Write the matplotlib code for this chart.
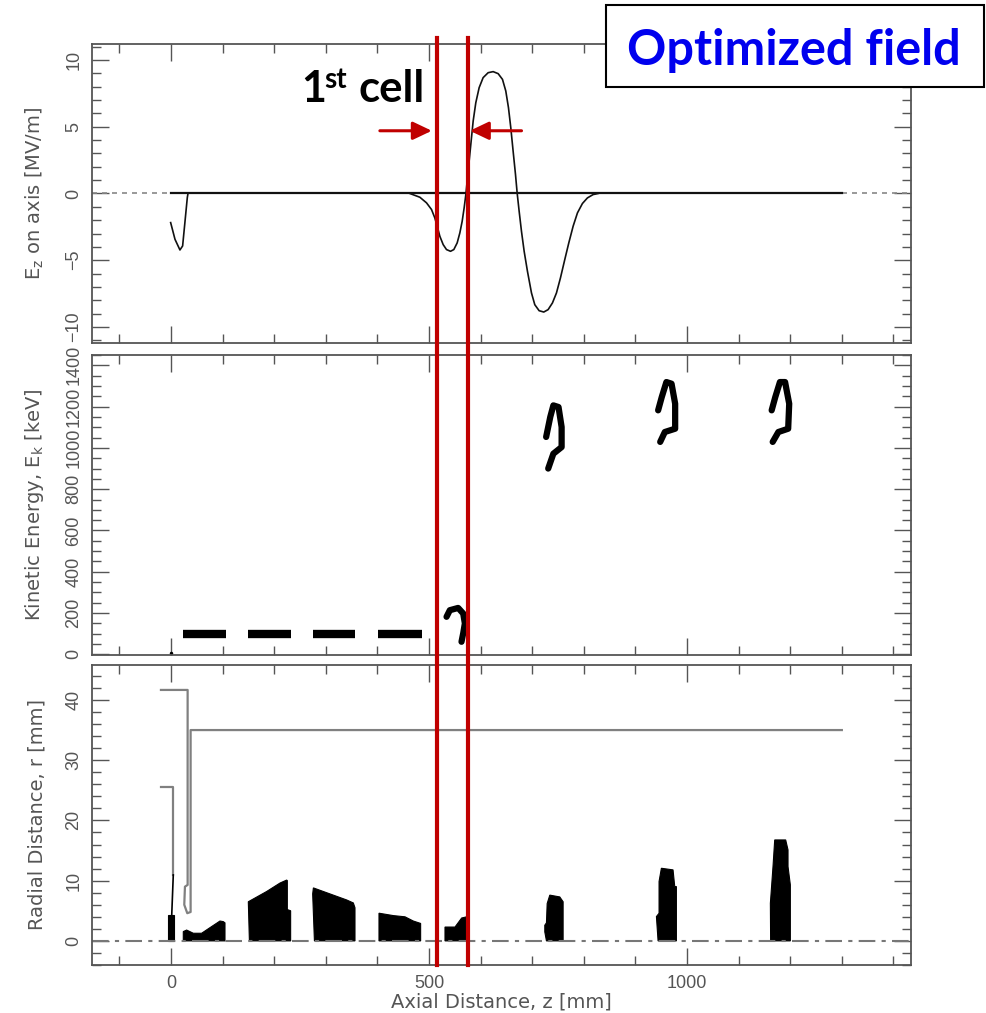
import matplotlib
matplotlib.use("Agg")
import matplotlib.pyplot as plt
from matplotlib.lines import Line2D
from matplotlib.patches import Rectangle
from matplotlib.ticker import MultipleLocator
from matplotlib.transforms import blended_transform_factory

# ---- top panel: Ez on axis [MV/m] vs z [mm]
gun_z = [-0.6, 7.8, 17.4, 22.6, 27.0, 31.7, 33.0]
gun_ez = [-2.18, -3.43, -4.23, -3.93, -2.18, -0.3, 0.0]
cav_z = [462.9, 482.3, 495.2, 504.9, 511.3, 515.9, 521.0, 527.5, 533.9, 541.7,
         548.1, 554.6, 559.8, 564.3, 568.1, 571.4, 574.6, 577.8, 581.7, 585.6,
         590.7, 597.2, 604.9, 614.6, 624.3, 634.0, 642.4, 648.8, 654.0, 658.5,
         663.0, 667.6, 670.8, 674.7, 679.2, 684.4, 690.8, 698.6, 705.0, 713.4,
         722.4, 730.8, 739.2, 747.0, 754.7, 763.1, 770.9, 779.3, 787.7, 797.3,
         807.0, 818.0, 827.7]
cav_ez = [0.0, -0.28, -0.7, -1.2, -1.83, -2.45, -3.2, -3.83, -4.2, -4.33,
          -4.2, -3.7, -2.95, -2.08, -1.08, -0.08, 1.18, 2.43, 3.93, 5.43,
          6.8, 7.93, 8.68, 9.05, 9.13, 8.98, 8.55, 7.68, 6.43, 4.93,
          3.18, 1.43, 0.05, -1.33, -2.83, -4.33, -5.83, -7.45, -8.33, -8.78,
          -8.88, -8.7, -8.2, -7.45, -6.33, -4.95, -3.7, -2.45, -1.45, -0.75,
          -0.33, -0.08, 0.0]
solid_axis_z = [0, 1300]
dotted_left_z = [-153, 0]
dotted_right_z = [1300, 1434]

# ---- middle panel: kinetic energy [keV]
ek_dashes = [(23.9, 106.5), (149.8, 231.8), (274.4, 356.4), (401.6, 485.5)]
ek_dash_level = 97
bunch1_z = [534, 540.4, 556.5, 566.3, 569.5, 566.3, 563]
bunch1_ek = [182, 214, 225, 198, 150, 102, 61]
bunch2_z = [731, 741, 757, 757, 751, 741, 735, 727]
bunch2_ek = [900, 972, 1004, 1101, 1198, 1206, 1150, 1053]
bunch3_z = [948, 957, 977, 977, 970, 960, 951, 944]
bunch3_ek = [1029, 1077, 1093, 1214, 1311, 1319, 1246, 1182]
bunch4_z = [1166, 1177, 1196, 1198, 1190, 1180, 1171, 1164]
bunch4_ek = [1029, 1077, 1093, 1214, 1319, 1319, 1246, 1182]

# ---- bottom panel: radial distance [mm]
outer_ap_z = [-19.4, 32.3, 32.3, 27.1, 25.8, 31.6, 38.1, 38.1, 1300]
outer_ap_r = [41.66, 41.66, 9.3, 9.0, 6.0, 4.6, 4.8, 35.0, 35.0]
inner_ap_z = [-19.4, 4.5, 4.5]
inner_ap_r = [25.6, 25.6, 10.95]
cath_trace_z = [4.5, 1.5]
cath_trace_r = [10.95, 4.3]
beam_polys = [
    ([-5, -5, 5, 5], [0, 4.3, 4.3, 0]),
    ([23.9, 23.9, 30.4, 43.3, 59.4, 78.8, 95, 101.4, 104.7, 104.7],
     [0, 1.55, 1.8, 1.27, 1.27, 2.38, 3.3, 3.2, 3.0, 0]),
    ([152, 149.9, 185.4, 211.2, 224.2, 225.5, 225.5, 231.9, 231.9],
     [0, 6.5, 8.2, 9.6, 10.1, 10.0, 5.2, 5.0, 0]),
    ([278, 274.6, 276, 314.6, 340.4, 353.4, 356.6, 356.6],
     [0, 7.8, 8.8, 7.6, 6.8, 6.3, 5.5, 0]),
    ([403.1, 403.1, 430.9, 453.5, 469.6, 483.8, 483.8],
     [0, 4.6, 4.2, 4.0, 3.3, 2.9, 0]),
    ([531, 531, 550.4, 563.3, 573, 573], [0, 2.3, 2.3, 3.8, 4.0, 0]),
    ([727.6, 724.4, 724.4, 727.6, 729, 734.1, 753.4, 759.9, 759.9],
     [0, 1.5, 2.6, 3.0, 6.2, 7.6, 7.3, 6.5, 0]),
    ([943.9, 940.7, 945.8, 945.8, 950.3, 972.9, 976.2, 979.4, 979.4],
     [0, 4.04, 4.59, 9.85, 12.06, 11.79, 9.02, 9.02, 0]),
    ([1162, 1161.5, 1166.6, 1169.9, 1191.2, 1195.7, 1195.7, 1200.2, 1200.2],
     [0, 6.25, 12.34, 16.76, 16.76, 15.1, 12.34, 9.3, 0]),
]

cell_edges_z = [515.5, 575.6]

GREY = "#555555"
RED = "#C00000"
W, H = 986, 1013

plt.rcParams["font.family"] = ["Liberation Sans", "DejaVu Sans"]

fig = plt.figure(figsize=(W / 100, H / 100), dpi=100)


def px_axes(x0, y0, x1, y1):
    return fig.add_axes([x0 / W, 1 - y1 / H, (x1 - x0) / W, (y1 - y0) / H])


def style(ax, ylim, major, minor, ylabel, show_x=False):
    ax.set_xlim(-153, 1434)
    ax.set_ylim(*ylim)
    ax.xaxis.set_major_locator(MultipleLocator(500))
    ax.xaxis.set_minor_locator(MultipleLocator(100))
    ax.yaxis.set_major_locator(MultipleLocator(major))
    ax.yaxis.set_minor_locator(MultipleLocator(minor))
    ax.tick_params(which="both", direction="in", top=True, right=True,
                   color=GREY, labelcolor=GREY, labelsize=13, pad=7)
    ax.tick_params(which="major", length=12, width=1)
    ax.tick_params(which="minor", length=6.5, width=1)
    ax.tick_params(axis="y", labelrotation=90)
    for t in ax.yaxis.get_major_ticks():
        t.label1.set_va("center")
    if not show_x:
        ax.tick_params(axis="x", labelbottom=False)
    for s in ax.spines.values():
        s.set_color(GREY)
        s.set_linewidth(1.3)
    ax.set_ylabel(ylabel, fontsize=14, color=GREY, family="DejaVu Sans")
    ax.yaxis.set_label_coords(-0.056, 0.5)


ax1 = px_axes(92, 44, 911, 343)
ax2 = px_axes(92, 355, 911, 655)
ax3 = px_axes(92, 665, 911, 965)

# top
ax1.plot(dotted_left_z, [0, 0], color="#888888", lw=1.2, ls=(0, (3, 3)))
ax1.plot(dotted_right_z, [0, 0], color="#888888", lw=1.2, ls=(0, (3, 3)))
ax1.plot(solid_axis_z, [0, 0], color="#111111", lw=1.6)
ax1.plot(gun_z, gun_ez, color="#111111", lw=1.2)
ax1.plot(cav_z, cav_ez, color="#111111", lw=1.2)
style(ax1, (-11.2, 11.2), 5, 1, r"E$_\mathrm{z}$ on axis [MV/m]")

# middle
for z0, z1 in ek_dashes:
    ax2.plot([z0, z1], [ek_dash_level, ek_dash_level], color="black", lw=6,
             solid_capstyle="butt")
ax2.plot([0], [5], "k.", ms=3)
for bz, be in [(bunch1_z, bunch1_ek), (bunch2_z, bunch2_ek),
               (bunch3_z, bunch3_ek), (bunch4_z, bunch4_ek)]:
    ax2.plot(bz, be, color="black", lw=4.5, solid_capstyle="round",
             solid_joinstyle="round")
style(ax2, (-3, 1450), 200, 50, r"Kinetic Energy, E$_\mathrm{k}$ [keV]")

# bottom
ax3.axhline(0, color="#777777", lw=1.5, ls=(0, (8, 3, 2, 3)))
ax3.plot(outer_ap_z, outer_ap_r, color="#808080", lw=1.6)
ax3.plot(inner_ap_z, inner_ap_r, color="#808080", lw=1.6)
ax3.plot(cath_trace_z, cath_trace_r, color="black", lw=1.2)
for pz, pr in beam_polys:
    ax3.fill(pz, pr, color="black", lw=0.8)
style(ax3, (-4, 45.8), 10, 2, "Radial Distance, r [mm]", show_x=True)
ax3.set_xlabel("Axial Distance, z [mm]", fontsize=14, color=GREY,
               family="DejaVu Sans")
ax3.xaxis.set_label_coords(0.5, -0.093)

# red cell boundaries spanning all panels
trans = blended_transform_factory(ax1.transData, fig.transFigure)
for zc in cell_edges_z:
    fig.add_artist(Line2D([zc, zc], [1 - 38 / H, 1 - 965 / H], transform=trans,
                          color=RED, lw=3, zorder=10))

arrow = dict(arrowstyle="-|>,head_length=0.82,head_width=0.39", color=RED,
             lw=2.2, mutation_scale=14, shrinkA=0, shrinkB=0)
ax1.annotate("", xy=(505.5, 4.7), xytext=(404.8, 4.7), arrowprops=arrow)
ax1.annotate("", xy=(579.1, 4.7), xytext=(679.3, 4.7), arrowprops=arrow)

fig.text(301 / W, 1 - 101.7 / H, "1", fontsize=31, fontweight="bold",
         family="Lato", ha="left", va="baseline")
fig.text(324 / W, 1 - 88.3 / H, "st", fontsize=20, fontweight="bold",
         family="Lato", ha="left", va="baseline")
fig.text(359 / W, 1 - 101.7 / H, "cell", fontsize=31.5, fontweight="bold",
         family="Lato", ha="left", va="baseline")

fig.add_artist(Rectangle((606 / W, 1 - 87 / H), (984 - 606) / W, 82 / H,
                         transform=fig.transFigure, facecolor="white",
                         edgecolor="black", lw=1.5, zorder=20))
fig.text(794 / W, 1 - 65 / H, "Optimized field", fontsize=35,
         fontweight="bold", family="Lato", color="#0000EE", ha="center",
         va="baseline", zorder=21)

fig.savefig("out.png", dpi=100)
